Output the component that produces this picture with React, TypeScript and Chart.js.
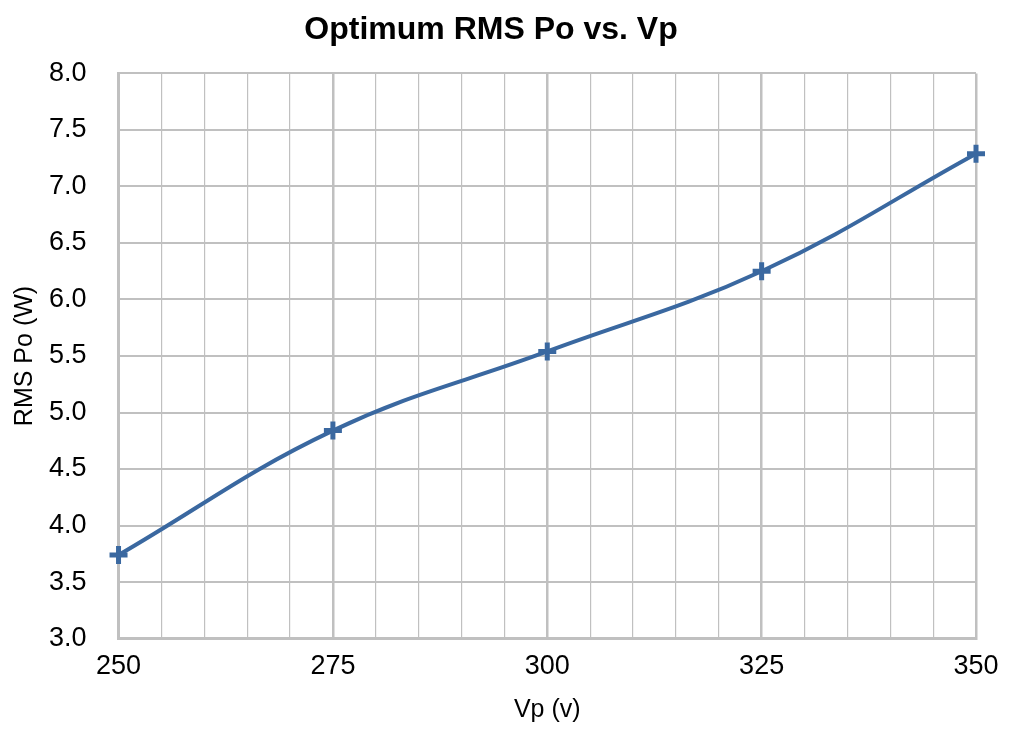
import { useEffect, useRef } from "react"
import { Chart, registerables } from "chart.js"

Chart.register(...registerables)

const vp = [250, 275, 300, 325, 350]
const rmsPo = [3.74, 4.84, 5.54, 6.25, 7.29]

const FONT = "'Liberation Sans', Arial, Helvetica, sans-serif"
const LINE = "#3a68a0"
const GRID = "#c0c0c0"

export default function App() {
  const canvasRef = useRef<HTMLCanvasElement>(null)
  const chartRef = useRef<Chart | null>(null)

  useEffect(() => {
    document.body.style.margin = "0"
    if (!canvasRef.current) return
    if (chartRef.current) chartRef.current.destroy()
    const ctx = canvasRef.current.getContext("2d")
    if (!ctx) return

    chartRef.current = new Chart(ctx, {
      type: "line",
      data: {
        datasets: [
          {
            label: "RMS Po",
            data: vp.map((x, i) => ({ x, y: rmsPo[i] })),
            borderColor: LINE,
            backgroundColor: LINE,
            borderWidth: 4,
            tension: 0.4,
            clip: false,
            pointStyle: "cross",
            pointRadius: 9,
            pointBorderWidth: 5,
            pointBorderColor: LINE,
          },
        ],
      },
      options: {
        animation: false,
        responsive: true,
        maintainAspectRatio: false,
        layout: { padding: { left: 6, right: 44, top: 0, bottom: 11 } },
        plugins: {
          legend: { display: false },
          tooltip: { enabled: false },
          title: {
            display: true,
            text: "Optimum RMS Po vs. Vp",
            color: "#000",
            font: { family: FONT, size: 32, weight: "bold" },
            padding: { top: 11, bottom: 24 },
          },
        },
        scales: {
          x: {
            type: "linear",
            min: 250,
            max: 350,
            border: { color: GRID, width: 3 },
            grid: {
              color: GRID,
              lineWidth: (c: any) => (c.tick && c.tick.value % 25 === 0 ? 2.5 : 1.2),
              drawTicks: false,
            },
            ticks: {
              stepSize: 5,
              autoSkip: false,
              maxRotation: 0,
              padding: 12,
              color: "#000",
              font: { family: FONT, size: 27 },
              callback: (v: any) => (Number(v) % 25 === 0 ? String(v) : ""),
            },
            title: {
              display: true,
              text: "Vp (v)",
              color: "#000",
              font: { family: FONT, size: 25 },
              padding: { top: 0, bottom: 4 },
            },
          },
          y: {
            min: 3,
            max: 8,
            border: { color: GRID, width: 3 },
            grid: { color: GRID, lineWidth: 2, drawTicks: false },
            ticks: {
              stepSize: 0.5,
              padding: 32,
              color: "#000",
              font: { family: FONT, size: 27 },
              callback: (v: any) => Number(v).toFixed(1),
            },
            title: {
              display: true,
              text: "RMS Po (W)",
              color: "#000",
              font: { family: FONT, size: 25 },
              padding: { top: 4, bottom: -23 },
            },
          },
        },
      },
    })

    return () => {
      if (chartRef.current) chartRef.current.destroy()
    }
  }, [])

  return (
    <div style={{ width: 1020, height: 740, position: "relative" }}>
      <canvas ref={canvasRef} />
    </div>
  )
}
